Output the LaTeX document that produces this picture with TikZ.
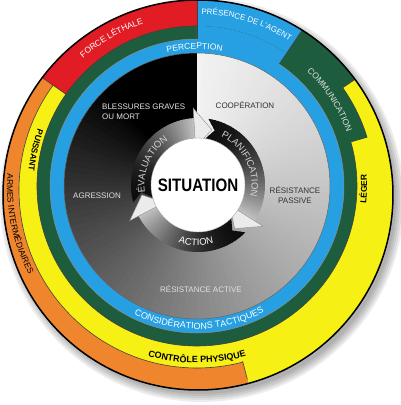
\documentclass[tikz,border=0pt]{standalone}
\usepackage{fontspec}
\setmainfont{Liberation Sans}
\usetikzlibrary{decorations.text}
\definecolor{cBlue}{RGB}{38,160,226}
\definecolor{cGreen}{RGB}{30,92,62}
\definecolor{cYellow}{RGB}{246,240,20}
\definecolor{cOrange}{RGB}{239,134,46}
\definecolor{cRed}{RGB}{226,28,36}
\newcommand{\wedgeclip}[2]{\clip (0,0) -- (#1:300) arc[start angle=#1, end angle=#2, radius=300] -- cycle;}
\newcommand{\arctxt}[6]{\path[decorate, decoration={text along path, text align=center, text color=#5, text={|#4|#6}}] (#2:#1) arc[start angle=#2, end angle=#3, radius=#1];}
\newcommand{\fS}{\fontsize{8.5}{10}\selectfont}
\newcommand{\fP}{\fontsize{8.5}{10}\selectfont}
\newcommand{\fT}{\fontsize{9}{10}\selectfont}
\newcommand{\fSm}{\fontsize{8}{10}\selectfont}
\newcommand{\fBd}{\fontsize{8.5}{10}\selectfont\bfseries}
\newcommand{\fBn}{\fontsize{9}{10}\selectfont\bfseries}
\newcommand{\fR}{\fontsize{9.5}{10}\selectfont}
% ring arrow: tail angle, back angle, tip angle
\newcommand{\ringarrow}[3]{%
  \begin{scope}
    \clip ({#1+5}:67) arc[start angle={#1+5}, end angle=#2, radius=67] -- (#2:47) arc[start angle=#2, end angle={#1+5}, radius=47] -- ({#1-3}:57) -- cycle;
    \foreach \k in {0,...,39} {
      \pgfmathsetmacro\aa{#1+5-\k*(#1+5-(#2))/40}
      \pgfmathsetmacro\ab{\aa-(#1+5-(#2))/40-0.8}
      \pgfmathsetmacro\L{5+70*(\k/39)^1.8}
      \fill[white!\L!black] (0,0) -- (\aa:75) arc[start angle=\aa, end angle=\ab, radius=75] -- cycle;
    }
  \end{scope}
  \fill[white!92!black, draw=black!45, line width=0.4pt] ({#2+0.6}:38) -- ({#2+0.6}:77) -- (#3:57) -- cycle;
}
\tikzset{
  sep/.style={draw=black!75, line width=0.6pt},
  ilbl/.style={font=\fontsize{8}{10}\selectfont, inner sep=0pt},
}
\begin{document}
\begin{tikzpicture}[x=1pt,y=1pt]
\useasboundingbox (-197,-219) rectangle (203,186);
\coordinate (O) at (1,-9);
\coordinate (Yc) at (0,-4);
% shadow
\foreach \r in {194,196,198,200,202} \fill[black,opacity=0.07] (5,-14) circle (\r);
% outer level
\fill[cOrange] (O) circle (195);
\begin{scope}\wedgeclip{-75.4}{34}\fill[cYellow] (O) circle (195);\end{scope}
\fill[cYellow] (Yc) circle (178);
\begin{scope}\wedgeclip{16}{56}\fill[cGreen] (Yc) circle (178);\end{scope}
\begin{scope}\wedgeclip{34}{56}\fill[cGreen] (O) circle (195);\end{scope}
\begin{scope}\wedgeclip{56}{90}\fill[cBlue] (O) circle (195);\end{scope}
\begin{scope}\wedgeclip{90}{145}\fill[cRed] (O) circle (195);\end{scope}
\fill[cGreen] (0,0) circle (160);
\begin{scope}\wedgeclip{56}{90}\fill[cBlue] (0,0) circle (160);\end{scope}
\fill[cBlue] (0,0) circle (147);
% interior conic gradient
\foreach \k in {0,...,119} {
  \pgfmathsetmacro\t{\k*3+1.5}
  \pgfmathsetmacro\L{max(0,min(100,95-0.15*\t-0.00047*\t*\t))}
  \pgfmathsetmacro\aa{90-\k*3}
  \pgfmathsetmacro\ab{max(-270,90-\k*3-3.4)}
  \fill[white!\L!black] (0,0) -- (\aa:133) arc[start angle=\aa, end angle=\ab, radius=133] -- cycle;
}
% separators
\begin{scope}\wedgeclip{145}{284.6}\draw[sep] (Yc) circle (178);\end{scope}
\begin{scope}\wedgeclip{16}{34}\draw[sep] (Yc) circle (178);\end{scope}
\begin{scope}
  \clip (O) circle (195);
  \draw[sep] (145:160) -- (145:200);
  \draw[sep] (90:147) -- (90:200);
  \draw[sep] (56:147) -- (56:200);
  \draw[sep] (34:176) -- (34:200);
  \draw[sep] (-75.4:181) -- (-75.4:200);
\end{scope}
\draw[sep] (16:160) -- (16:177);
\draw[sep] (90:160) arc[start angle=90, end angle=376, radius=160];
\draw[draw=black!45, line width=0.5pt] (90:147) arc[start angle=90, end angle=416, radius=147];
\draw[draw=black!60, line width=0.5pt] (0,0) circle (133);
\draw[black, line width=1.5pt] (O) circle (195);
% ring labels
\arctxt{137}{131}{51}{\fP}{white}{PERCEPTION}
\arctxt{143}{201}{341}{\fT}{white}{CONSIDÉRATIONS TACTIQUES}
\arctxt{172}{103}{43}{\fSm}{white}{PRÉSENCE DE L'AGENT}
\arctxt{171}{150}{90}{\fS}{white}{FORCE LÉTHALE}
\arctxt{159}{63}{3}{\fS}{white!88!black}{COMMUNICATION}
\arctxt{170}{-31}{29}{\fBd}{black}{LÉGER}
\arctxt{169}{137.5}{197.5}{\fBd}{black}{PUISSANT}
\arctxt{190}{162}{222}{\fS}{black}{ARMES INTERMÉDIAIRES}
\arctxt{177}{230}{310}{\fBn}{black}{CONTRÔLE PHYSIQUE}
% interior labels
\node[ilbl, text=white!90!black, align=left, anchor=west] (bg) at (-95,74) {BLESSURES GRAVES\\OU MORT};
\node[ilbl, text=black!80] (coop) at (48,81) {COOPÉRATION};
\node[ilbl, text=black!80, align=center] (rp) at (98,-9.5) {RÉSISTANCE\\PASSIVE};
\node[ilbl, text=white!88!black] (agr) at (-100,-10) {AGRESSION};
\node[ilbl, text=white!88!black] (ra) at (4,-103) {RÉSISTANCE ACTIVE};
% central cycle
\begin{scope}[shift={(1,1)}]
  \ringarrow{190}{93}{76}
  \ringarrow{76}{-33}{-50}
  \ringarrow{-50}{-153}{-170}
  \fill[white, draw=black!35, line width=0.4pt] (0,0) circle (47);
  \arctxt{53.5}{196}{116}{\fR}{white!82!black}{ÉVALUATION}
  \arctxt{53.5}{71}{-19}{\fR}{white!82!black}{PLANIFICATION}
  \arctxt{60.5}{228}{308}{\fR}{white}{ACTION}
  \node[inner sep=0pt] (sit) at (0,0) {\scalebox{0.84}[1]{\fontsize{18}{20}\selectfont\bfseries SITUATION}};
\end{scope}
\end{tikzpicture}
\end{document}
